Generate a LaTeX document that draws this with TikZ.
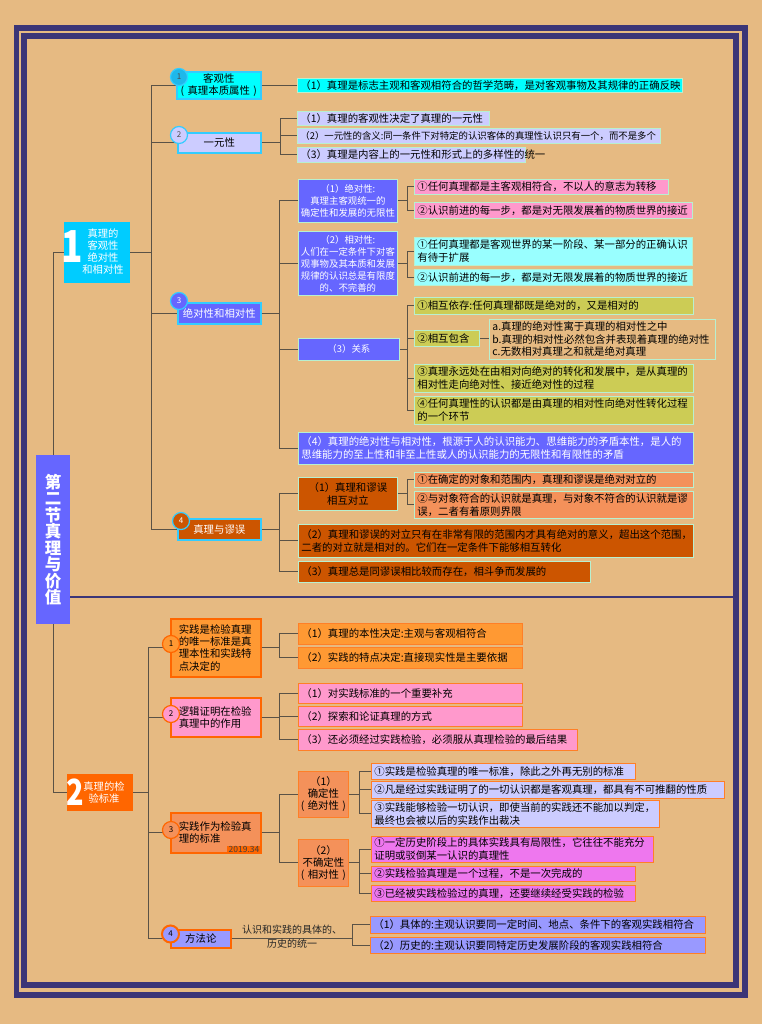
\documentclass[tikz,border=0pt]{standalone}
\usepackage{fontspec}
\setmainfont{Noto Sans CJK SC}
\usetikzlibrary{positioning}

\definecolor{bgtan}{HTML}{E6BA82}
\definecolor{framenavy}{HTML}{3B3577}
\definecolor{linkgrey}{HTML}{5A5246}
\definecolor{cyanbox}{HTML}{00FFFF}
\definecolor{cyanedge}{HTML}{33CCFF}
\definecolor{dotcyan}{HTML}{1EB8EA}
\definecolor{seccyan}{HTML}{00CCFF}
\definecolor{bluebox}{HTML}{6666FF}
\definecolor{lav}{HTML}{CCCCFF}
\definecolor{pinkleaf}{HTML}{FF99CC}
\definecolor{ltcyan}{HTML}{99FFFF}
\definecolor{olive}{HTML}{CCCC55}
\definecolor{mint}{HTML}{B8F0D0}
\definecolor{rust}{HTML}{CC5500}
\definecolor{salmon}{HTML}{F4915A}
\definecolor{orangebox}{HTML}{FF6600}
\definecolor{orangeedge}{HTML}{FF7F27}
\definecolor{ltorange}{HTML}{FF9933}
\definecolor{magentaleaf}{HTML}{EE77EE}
\definecolor{peri}{HTML}{9999FF}

\tikzset{
  leaf/.style={draw=mint, line width=0.8pt, anchor=north west, align=left,
    inner xsep=3pt, inner ysep=1pt, font=\fontsize{10.4}{13}\selectfont},
  leaftwo/.style={leaf, draw=orangeedge},
  topic/.style={draw=cyanedge, line width=1.6pt, anchor=north west, align=center,
    inner sep=1pt, font=\fontsize{10.4}{12.5}\selectfont},
  topictwo/.style={draw=orangebox, line width=1.6pt, anchor=north west, align=left,
    inner xsep=8pt, inner ysep=1pt, font=\fontsize{10.4}{12.3}\selectfont},
  subtopic/.style={draw=mint, line width=0.8pt, anchor=north west, align=center,
    inner sep=1pt, text=white, font=\fontsize{9.4}{12.3}\selectfont},
  numdot/.style={circle, draw=cyanedge, line width=1.2pt, minimum size=17pt,
    inner sep=0pt, font=\fontsize{8}{8}\selectfont},
  conn/.style={draw=linkgrey, line width=1.1pt},
  framepen/.style={draw=framenavy},
}

\begin{document}
\begin{tikzpicture}[x=1pt,y=-1pt]
\useasboundingbox (0,0) rectangle (762,1024);
\fill[bgtan] (0,0) rectangle (762,1024);
\draw[framepen, line width=5.5pt] (16.5,28) rectangle (745,995);
\draw[framepen, line width=6pt] (24,36) rectangle (736,985);

% title column
\node[anchor=north west, fill=bluebox, text width=32, minimum height=169, inner sep=1pt,
  align=center, text=white, font=\fontsize{16.5}{16.5}\selectfont\bfseries]
  (root) at (36,455) {第\\二\\节\\真\\理\\与\\价\\值};
\draw[framepen, line width=2pt] (root.east |- 0,597) -- (733,597);

% part 1
\node[anchor=north west, fill=seccyan, minimum width=66, minimum height=61, inner sep=0pt] (sec1) at (64,222) {};
\node[text=white, inner sep=0pt] (sec1no) at (72,247) {\scalebox{0.8}[1]{\fontsize{44}{44}\selectfont\bfseries 1}};
\node[text=white, align=center, inner sep=0pt, font=\fontsize{10.3}{12}\selectfont] (sec1txt) at (103,252) {真理的\\客观性\\绝对性\\和相对性};

\node[topic, fill=cyanbox, text width=82, minimum height=27] (s1a) at (176,71) {客观性\\( 真理本质属性 )};
\node[leaf, fill=cyanbox, text width=379, minimum height=14] (s1a1) at (297,78) {（1）真理是标志主观和客观相符合的哲学范畴，是对客观事物及其规律的正确反映};

\node[topic, fill=lav, text width=81, minimum height=20] (s1b) at (177,132) {一元性};
\node[leaf, fill=lav, text width=186, minimum height=14] (s1b1) at (297,111) {（1）真理的客观性决定了真理的一元性};
\node[leaf, fill=lav, text width=357, minimum height=15, font=\fontsize{9.4}{12}\selectfont] (s1b2) at (297,128) {（2）一元性的含义:同一条件下对特定的认识客体的真理性认识只有一个，而不是多个};
\node[leaf, fill=lav, text width=222, minimum height=15] (s1b3) at (297,147) {（3）真理是内容上的一元性和形式上的多样性的统一};

\node[topic, fill=bluebox, text=white, text width=81, minimum height=21] (s1c) at (177,302) {绝对性和相对性};
\node[subtopic, fill=bluebox, text width=97, minimum height=43] (abs) at (298,179) {（1）绝对性:\\真理主客观统一的\\确定性和发展的无限性};
\node[leaf, fill=pinkleaf, text width=248, minimum height=15] (abs1) at (414,179) {①任何真理都是主客观相符合，不以人的意志为转移};
\node[leaf, fill=pinkleaf, text width=272, minimum height=16] (abs2) at (414,202) {②认识前进的每一步，都是对无限发展着的物质世界的接近};
\node[subtopic, fill=bluebox, text width=97, minimum height=64, font=\fontsize{9.4}{12}\selectfont] (rel) at (298,231) {（2）相对性:\\人们在一定条件下对客\\观事物及其本质和发展\\规律的认识总是有限度\\的、不完善的};
\node[leaf, fill=ltcyan, text width=272, minimum height=28] (rel1) at (414,237) {①任何真理都是客观世界的某一阶段、某一部分的正确认识\\有待于扩展};
\node[leaf, fill=ltcyan, text width=272, minimum height=16] (rel2) at (414,269) {②认识前进的每一步，都是对无限发展着的物质世界的接近};
\node[subtopic, fill=bluebox, text width=99, minimum height=22] (link) at (298,338) {（3）关系};
\node[leaf, fill=olive, text width=273, minimum height=17] (link1) at (414,297) {①相互依存:任何真理都既是绝对的，又是相对的};
\node[leaf, fill=olive, text width=59, minimum height=16] (link2) at (414,330) {②相互包含};
\node[leaf, fill=bgtan, text width=220, minimum height=40, font=\fontsize{10.4}{12.5}\selectfont] (link2s) at (489,319) {a.真理的绝对性寓于真理的相对性之中\\b.真理的相对性必然包含并表现着真理的绝对性\\c.无数相对真理之和就是绝对真理};
\node[leaf, fill=olive, text width=273, minimum height=28] (link3) at (414,364) {③真理永远处在由相对向绝对的转化和发展中，是从真理的\\相对性走向绝对性、接近绝对性的过程};
\node[leaf, fill=olive, text width=273, minimum height=28] (link4) at (414,396) {④任何真理性的认识都是由真理的相对性向绝对性转化过程\\的一个环节};
\node[leaf, fill=bluebox, text=white, text width=389, minimum height=32] (absrel) at (298,432) {（4）真理的绝对性与相对性，根源于人的认识能力、思维能力的矛盾本性，是人的\\思维能力的至上性和非至上性或人的认识能力的无限性和有限性的矛盾};

\node[topic, fill=rust, text=white, text width=81, minimum height=21] (s1d) at (177,518) {真理与谬误};
\node[subtopic, fill=rust, text=black, text width=97, minimum height=33, font=\fontsize{10.4}{13}\selectfont] (err1) at (298,477) {（1）真理和谬误\\相互对立};
\node[leaf, fill=salmon, text width=273, minimum height=15] (err11) at (414,472) {①在确定的对象和范围内，真理和谬误是绝对对立的};
\node[leaf, fill=salmon, text width=273, minimum height=27] (err12) at (414,491) {②与对象符合的认识就是真理，与对象不符合的认识就是谬\\误，二者有着原则界限};
\node[leaf, fill=rust, text width=389, minimum height=33] (err2) at (298,524) {（2）真理和谬误的对立只有在非常有限的范围内才具有绝对的意义，超出这个范围，\\二者的对立就是相对的。它们在一定条件下能够相互转化};
\node[leaf, fill=rust, text width=286, minimum height=21] (err3) at (298,561) {（3）真理总是同谬误相比较而存在，相斗争而发展的};

% part 2
\node[anchor=north west, fill=orangebox, minimum width=66, minimum height=37, inner sep=0pt] (sec2) at (67,774) {};
\node[text=white, inner sep=0pt] (sec2no) at (75,792) {\scalebox{0.8}[1]{\fontsize{36}{36}\selectfont\bfseries 2}};
\node[text=white, align=center, inner sep=0pt, font=\fontsize{10.3}{11.5}\selectfont] (sec2txt) at (104,792.5) {真理的检\\验标准};

\node[topictwo, fill=ltorange, text width=74, minimum height=58] (s2a) at (170,618) {实践是检验真理\\的唯一标准是真\\理本性和实践特\\点决定的};
\node[leaftwo, fill=ltorange, text width=218, minimum height=21] (s2a1) at (298,623) {（1）真理的本性决定:主观与客观相符合};
\node[leaftwo, fill=ltorange, text width=218, minimum height=21] (s2a2) at (298,647) {（2）实践的特点决定:直接现实性是主要依据};

\node[topictwo, fill=pinkleaf, text width=74, minimum height=39] (s2b) at (170,697) {逻辑证明在检验\\真理中的作用};
\node[leaftwo, fill=pinkleaf, text width=218, minimum height=20] (s2b1) at (298,683) {（1）对实践标准的一个重要补充};
\node[leaftwo, fill=pinkleaf, text width=218, minimum height=20] (s2b2) at (298,706) {（2）探索和论证真理的方式};
\node[leaftwo, fill=pinkleaf, text width=273, minimum height=21] (s2b3) at (298,729) {（3）还必须经过实践检验，必须服从真理检验的最后结果};

\node[topictwo, fill=salmon, text width=74, minimum height=40] (s2c) at (170,812) {实践作为检验真\\理的标准};
\node[anchor=south east, fill=orangebox, inner xsep=2pt, inner ysep=0.5pt, text=black!75,
  font=\fontsize{8.5}{8.5}\selectfont] (tag) at (s2c.south east) {2019.34};
\node[subtopic, draw=orangeedge, fill=salmon, text=black, text width=48, minimum height=46,
  font=\fontsize{10.4}{12}\selectfont] (cert) at (298,771) {（1）\\确定性\\( 绝对性 )};
\node[leaftwo, fill=lav, text width=258, minimum height=16] (cert1) at (371,763) {①实践是检验真理的唯一标准，除此之外再无别的标准};
\node[leaftwo, fill=lav, text width=347, minimum height=17] (cert2) at (371,781) {②凡是经过实践证明了的一切认识都是客观真理，都具有不可推翻的性质};
\node[leaftwo, fill=lav, text width=282, minimum height=27] (cert3) at (371,800) {③实践能够检验一切认识，即使当前的实践还不能加以判定，\\最终也会被以后的实践作出裁决};
\node[subtopic, draw=orangeedge, fill=salmon, text=black, text width=48, minimum height=47,
  font=\fontsize{10.4}{12}\selectfont] (unc) at (298,839) {（2）\\不确定性\\( 相对性 )};
\node[leaftwo, fill=magentaleaf, text width=276, minimum height=26] (unc1) at (371,836) {①一定历史阶段上的具体实践具有局限性，它往往不能充分\\证明或驳倒某一认识的真理性};
\node[leaftwo, fill=magentaleaf, text width=258, minimum height=15] (unc2) at (371,866) {②实践检验真理是一个过程，不是一次完成的};
\node[leaftwo, fill=magentaleaf, text width=258, minimum height=16] (unc3) at (371,885) {③已经被实践检验过的真理，还要继续经受实践的检验};

\node[topictwo, fill=peri, align=center, text width=44, minimum height=18] (s2d) at (170,929) {方法论};
\node[leaftwo, fill=peri, text width=329, minimum height=17] (meth1) at (370,916) {（1）具体的:主观认识要同一定时间、地点、条件下的客观实践相符合};
\node[leaftwo, fill=peri, text width=329, minimum height=16] (meth2) at (370,937) {（2）历史的:主观认识要同特定历史发展阶段的客观实践相符合};

% connectors
\draw[conn] (root.north) |- (sec1.west);
\draw[conn] (root.south) |- (sec2.west);

\draw[conn] (sec1.east) -- ++(21,0) coordinate (j1);
\draw[conn] (j1) |- (s1a.west) (j1) |- (s1b.west) (j1) |- (s1c.west) (j1) |- (s1d.west);
\draw[conn] (s1a.east) -- (s1a.east -| s1a1.west);
\draw[conn] (s1b.east) -- ++(19,0) coordinate (j1b);
\draw[conn] (j1b) |- (s1b1.west) (j1b) |- (s1b2.west) (j1b) |- (s1b3.west);
\draw[conn] (s1c.east) -- ++(18,0) coordinate (j1c);
\draw[conn] (j1c) |- (abs.west) (j1c) |- (rel.west) (j1c) |- (link.west) (j1c) |- (absrel.west);
\draw[conn] (abs.east) -- ++(10,0) coordinate (ja);
\draw[conn] (ja) |- (abs1.west) (ja) |- (abs2.west);
\draw[conn] (rel.east) -- ++(10,0) coordinate (jr);
\draw[conn] (jr) |- (rel1.west) (jr) |- (rel2.west);
\draw[conn] (link.east) -- ++(8,0) coordinate (jl);
\draw[conn] (jl) |- (link1.west) (jl) |- (link2.west) (jl) |- (link3.west) (jl) |- (link4.west);
\draw[conn] (link2.east) -- (link2.east -| link2s.west);
\draw[conn] (s1d.east) -- ++(18,0) coordinate (j1d);
\draw[conn] (j1d) |- (err1.west) (j1d) |- (err2.west) (j1d) |- (err3.west);
\draw[conn] (err1.east) -- ++(10,0) coordinate (je);
\draw[conn] (je) |- (err11.west) (je) |- (err12.west);

\draw[conn] (sec2.east) -- ++(15,0) coordinate (j2);
\draw[conn] (j2) |- (s2a.west) (j2) |- (s2b.west) (j2) |- (s2c.west) (j2) |- (s2d.west);
\draw[conn] (s2a.east) -- ++(18,0) coordinate (j2a);
\draw[conn] (j2a) |- (s2a1.west) (j2a) |- (s2a2.west);
\draw[conn] (s2b.east) -- ++(18,0) coordinate (j2b);
\draw[conn] (j2b) |- (s2b1.west) (j2b) |- (s2b2.west) (j2b) |- (s2b3.west);
\draw[conn] (s2c.east) -- ++(18,0) coordinate (j2c);
\draw[conn] (j2c) |- (cert.west) (j2c) |- (unc.west);
\draw[conn] (cert.east) -- ++(11,0) coordinate (jc);
\draw[conn] (jc) |- (cert1.west) (jc) |- (cert2.west) (jc) |- (cert3.west);
\draw[conn] (unc.east) -- ++(11,0) coordinate (ju);
\draw[conn] (ju) |- (unc1.west) (ju) |- (unc2.west) (ju) |- (unc3.west);
\draw[conn] (s2d.east) -- node[yshift=2pt, align=center, inner sep=0pt, text=black!85,
  font=\fontsize{10}{14}\selectfont] (methlbl) {认识和实践的具体的、\\历史的统一} ++(121,0) coordinate (j2d);
\draw[conn] (j2d) |- (meth1.west) (j2d) |- (meth2.west);

% number dots
\node[numdot, fill=dotcyan, text=black!70] (n1a) at (179,77) {1};
\node[numdot, fill=lav, text=black!70] (n1b) at (179,135) {2};
\node[numdot, fill=bluebox, text=white] (n1c) at (179,301) {3};
\node[numdot, fill=rust, text=white] (n1d) at (181,521) {4};
\node[numdot, draw=orangebox, fill=ltorange] (n2a) at (171,644) {1};
\node[numdot, draw=orangebox, fill=pinkleaf] (n2b) at (171,714) {2};
\node[numdot, draw=orangebox, fill=salmon] (n2c) at (171,830) {3};
\node[numdot, draw=orangebox, fill=peri, line width=2pt] (n2d) at (170.5,934) {4};
\end{tikzpicture}
\end{document}
